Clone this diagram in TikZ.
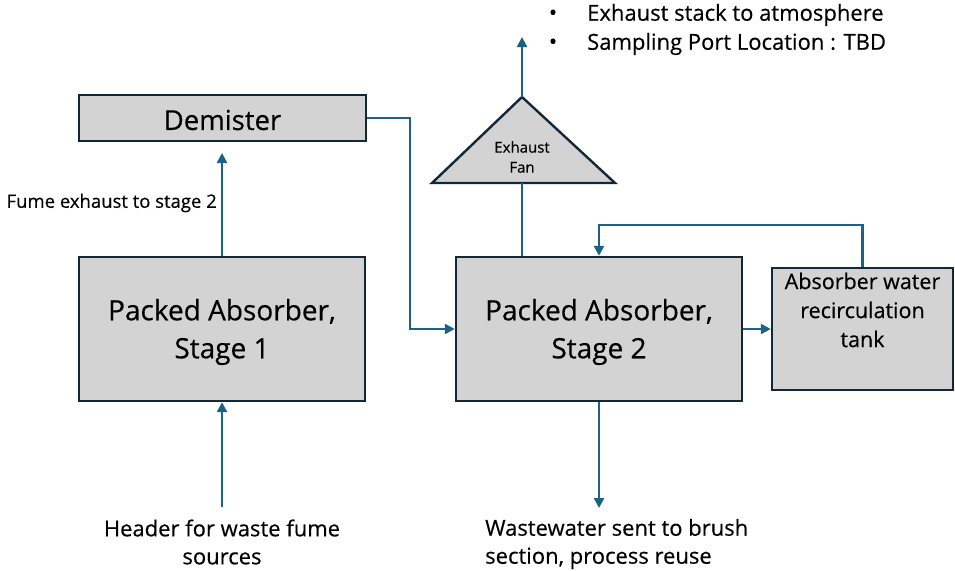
\documentclass[tikz,border=0pt]{standalone}
\usepackage{fontspec}
\setmainfont{Open Sans}[FakeBold=0.4]
\usetikzlibrary{arrows.meta}
\definecolor{boxfill}{RGB}{211,211,211}
\definecolor{boxline}{RGB}{18,40,56}
\definecolor{flow}{RGB}{28,98,132}
\tikzset{
  unit/.style={draw=boxline, line width=2.4pt, fill=boxfill, inner sep=0pt, align=center, text=black},
  pipe/.style={draw=flow, line width=2.4pt, -{Triangle[length=10pt,width=10pt]}},
  plainpipe/.style={draw=flow, line width=2.4pt},
  note/.style={inner sep=0pt, text=black},
}
\begin{document}
\begin{tikzpicture}[x=1pt,y=-1pt]
\useasboundingbox (0,0) rectangle (955,570);

% process units
\node[unit, minimum width=287pt, minimum height=46pt] (demister) at (222.5,118) {};
\node[note, font=\fontsize{27.5}{32}\selectfont] (demlabel) at (222.5,120) {Demister};
\node[unit, minimum width=286pt, minimum height=144pt] (stage1) at (222,329) {};
\node[note, font=\fontsize{28}{38}\selectfont, align=center] (s1label) at (222,332) {Packed Absorber,\\Stage 1};
\node[unit, minimum width=286pt, minimum height=144pt] (stage2) at (599,329) {};
\node[note, font=\fontsize{28}{38}\selectfont, align=center] (s2label) at (599,332) {Packed Absorber,\\Stage 2};
\node[unit, minimum width=181pt, minimum height=122pt, anchor=north] (tank) at (862.5,267) {};
\node[note, font=\fontsize{21.5}{29}\selectfont, align=center] (tanklabel) at (862.5,310) {Absorber water\\recirculation\\tank};

% exhaust fan
\coordinate (fanapex) at (522,97);
\coordinate (fanleft) at (432,183);
\coordinate (fanright) at (615,183);
\draw[draw=boxline, line width=2.4pt, fill=boxfill, line join=miter] (fanleft) -- (fanapex) -- (fanright) -- cycle;
\node[note, font=\fontsize{15}{20}\selectfont, align=center] (fan) at (522,157) {Exhaust\\Fan};
\coordinate (fanbase) at (522,183);
\coordinate (stack) at (522,37);

% annotations
\node[note, font=\fontsize{22}{24}\selectfont] (b1) at (553,15) {•};
\node[note, font=\fontsize{22}{24}\selectfont] (b2) at (553,44) {•};
\node[note, font=\fontsize{22}{24}\selectfont, anchor=west] (t1) at (587,15) {Exhaust stack to atmosphere};
\node[note, font=\fontsize{22}{24}\selectfont, anchor=west] (t2) at (587,44) {Sampling Port Location : TBD};
\node[note, font=\fontsize{18.5}{22}\selectfont, anchor=east] (fumelabel) at (217,203) {Fume exhaust to stage 2};
\node[note, font=\fontsize{22}{28}\selectfont, align=center] (header) at (222,542) {Header for waste fume\\sources};
\node[note, font=\fontsize{22}{28}\selectfont, align=left, anchor=west] (waste) at (485,544) {Wastewater sent to brush\\section, process reuse};

\coordinate (headerin) at (222,507);
\coordinate (wasteout) at (599,508);
\coordinate (demisterin) at (222,153);

% connectors
\draw[pipe] (headerin) -- (stage1.south);
\draw[pipe] (stage1.north) -- (demisterin);
\draw[pipe] (demister.east) -- (410,118) |- (stage2.west);
\draw[plainpipe] (stage2.north -| fanbase) -- (fanbase);
\draw[pipe] (fanapex) -- (stack);
\draw[pipe] (stage2.south) -- (wasteout);
\draw[pipe] (stage2.east) -- (tank.west |- stage2.east);
\draw[pipe] (tank.north) -- (862.5,225) -| (stage2.north);
\end{tikzpicture}
\end{document}
